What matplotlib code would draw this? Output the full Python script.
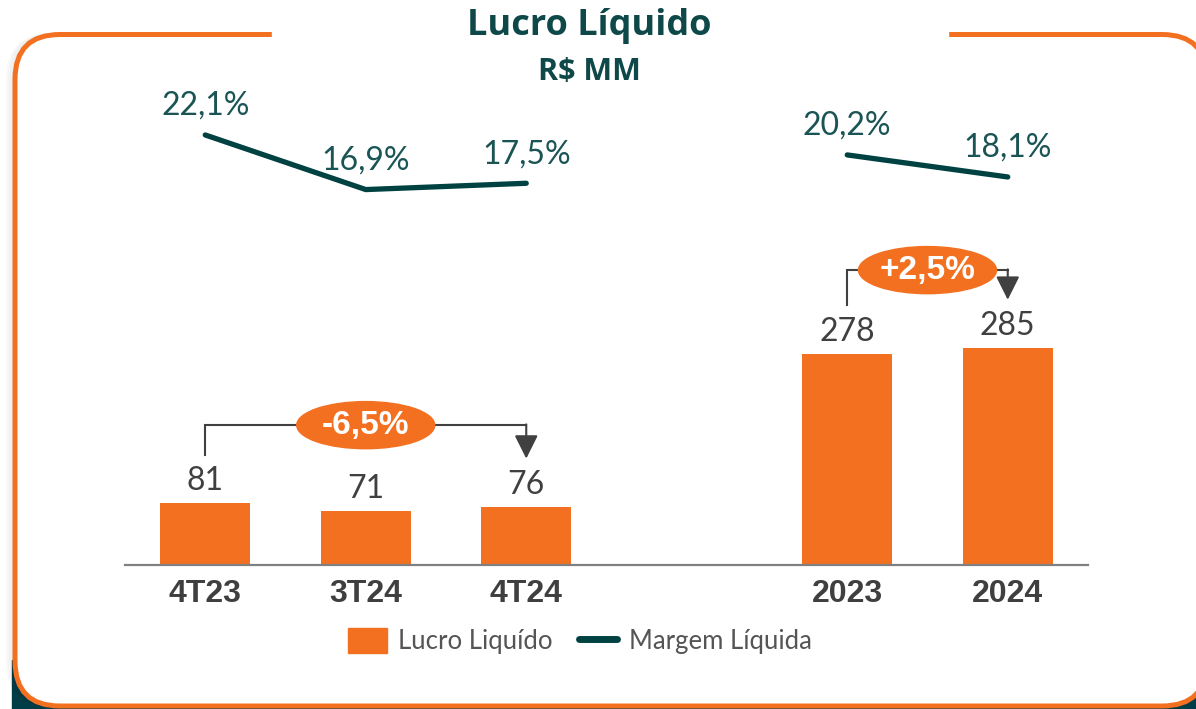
import matplotlib
matplotlib.use("Agg")
import matplotlib.pyplot as plt
from matplotlib.patches import FancyBboxPatch, Rectangle, Ellipse
from matplotlib.lines import Line2D

# Dados do gráfico
periodos = ["4T23", "3T24", "4T24", "2023", "2024"]
lucro_liquido = [81, 71, 76, 278, 285]
margem_liquida = [22.1, 16.9, 17.5, 20.2, 18.1]
variacoes = ["-6,5%", "+2,5%"]

LARANJA = "#f37021"
TEAL = "#004242"
TEAL_TXT = "#1b5454"
CINZA = "#404040"

W, H = 1196, 709
fig = plt.figure(figsize=(W / 100, H / 100), dpi=100)
fig.patch.set_facecolor("white")

# moldura (coordenadas em pixels)
deco = fig.add_axes([0, 0, 1, 1], zorder=0)
deco.set_xlim(0, W)
deco.set_ylim(H, 0)
deco.axis("off")

deco.add_patch(Rectangle((12, 660), W, 60, color="#003d47", zorder=0))
for i, a in enumerate([0.05, 0.04, 0.03, 0.02]):
    deco.add_patch(FancyBboxPatch((15 - 2 * (i + 1), 34.5), 1192, 671.5,
                                  boxstyle="round,pad=0,rounding_size=45",
                                  fc="none", ec="black", lw=2, alpha=a, zorder=0.5))
deco.add_patch(FancyBboxPatch((15, 34.5), 1192, 671.5,
                              boxstyle="round,pad=0,rounding_size=45",
                              fc="white", ec=LARANJA, lw=3.6, zorder=1))
deco.add_patch(Rectangle((272, 26), 676, 16, color="white", zorder=2))
deco.text(589, 35, "Lucro Líquido", ha="center", va="baseline", fontsize=26,
          fontweight="bold", family="Open Sans", color="#0e4848", zorder=3)
deco.text(589, 80, "R$ MM", ha="center", va="baseline", fontsize=22,
          fontweight="bold", family="Open Sans", color="#0e4848", zorder=3)

# eixo das barras
ax = fig.add_axes([125 / W, 1 - 565 / H, (1088 - 125) / W, (565 - 33) / H], zorder=2)
ax.patch.set_visible(False)
x = [0, 1, 2, 4, 5]
barras = ax.bar(x, lucro_liquido, width=0.56, color=LARANJA, zorder=2)
ax.set_xlim(-0.5, 5.5)
ax.set_ylim(0, 700)
for s in ["left", "right", "top"]:
    ax.spines[s].set_visible(False)
ax.spines["bottom"].set_color("#808080")
ax.spines["bottom"].set_linewidth(1.6)
ax.set_yticks([])
ax.set_xticks(x, periodos)
ax.tick_params(axis="x", length=0, pad=10)
for lab in ax.get_xticklabels():
    lab.set_fontsize(23)
    lab.set_fontweight("bold")
    lab.set_family("Liberation Sans")
    lab.set_color("#3f3f3f")

for xi, v in zip(x, lucro_liquido):
    ax.annotate(str(v), (xi, v), xytext=(0, 22), textcoords="offset pixels",
                ha="center", va="center", fontsize=23,
                family="Lato", color=CINZA)

# colchetes de variação
def colchete(x0, v0, x1, v1, texto):
    topo = max(v0, v1) + 103
    ax.plot([x0, x0, x1], [v0 + 64, topo, topo], color=CINZA, lw=1.5,
            solid_joinstyle="miter", zorder=3)
    ax.annotate("", xy=(x1, v1 + 64), xytext=(x1, topo + 1),
                arrowprops=dict(arrowstyle="-|>,head_length=0.8,head_width=0.4",
                                color=CINZA, lw=1.5, mutation_scale=18,
                                shrinkA=0, shrinkB=0), zorder=3)
    xm = (x0 + x1) / 2
    ax.add_patch(Ellipse((xm, topo), 0.86, 62, color=LARANJA, zorder=4))
    ax.text(xm, topo, texto, ha="center", va="center", fontsize=24,
            fontweight="bold", family="Liberation Sans", color="white", zorder=5)

colchete(x[0], lucro_liquido[0], x[2], lucro_liquido[2], variacoes[0])
colchete(x[3], lucro_liquido[3], x[4], lucro_liquido[4], variacoes[1])

# margem líquida
ax2 = ax.twinx()
ax2.patch.set_visible(False)
ax2.set_ylim(-18.85, 31.81)
ax2.axis("off")
ax2.plot(x[:3], margem_liquida[:3], color=TEAL, lw=3.8,
         solid_capstyle="round", solid_joinstyle="round")
ax2.plot(x[3:], margem_liquida[3:], color=TEAL, lw=3.8,
         solid_capstyle="round", solid_joinstyle="round")
for xi, m in zip(x, margem_liquida):
    ax2.annotate(f"{m:.1f}".replace(".", ",") + "%", (xi, m), xytext=(0, 29),
                 textcoords="offset pixels", ha="center", va="center",
                 fontsize=23, family="Lato", color=TEAL_TXT)

# legenda
leg_handles = [Rectangle((0, 0), 1, 1, color=LARANJA),
               Line2D([0], [0], color=TEAL, lw=5, solid_capstyle="round")]
leg = fig.legend(leg_handles, ["Lucro Liquído", "Margem Líquida"], ncol=2,
                 loc="center", bbox_to_anchor=(580 / W, 1 - 641 / H),
                 frameon=False, handlelength=1.5, handleheight=1.1,
                 handletextpad=0.45, columnspacing=1.0,
                 prop={"family": "Lato", "size": 18.5})
for t in leg.get_texts():
    t.set_color("#555555")

fig.savefig("out.png", dpi=100)
